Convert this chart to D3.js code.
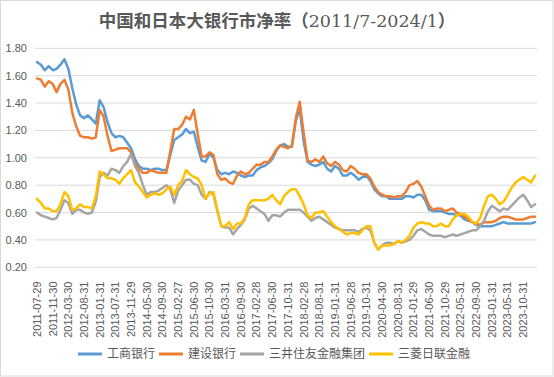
<!DOCTYPE html>
<html><head><meta charset="utf-8">
<script src="https://cdn.jsdelivr.net/npm/d3@7"></script>
<style>body{margin:0;background:#fff} svg{display:block}</style>
</head><body>
<svg id="c" width="554" height="377"></svg>
<script>
// ---------- data ----------
const titleMain = "中国和日本大银行市净率";
const titleRange = "2011/7-2024/1";
const seriesNames = ["工商银行", "建设银行", "三井住友金融集团", "三菱日联金融"];
const tickLabels = ["2011-07-29","2011-11-30","2012-03-30","2012-08-31","2013-01-31","2013-07-31","2013-11-29","2014-05-30","2014-09-30","2015-02-27","2015-06-30","2015-10-30","2016-03-31","2016-09-30","2017-02-28","2017-06-30","2017-10-31","2018-02-28","2018-08-31","2019-01-31","2019-06-28","2019-10-31","2020-04-30","2020-08-31","2021-01-29","2021-06-30","2021-10-29","2022-05-31","2022-09-30","2023-01-31","2023-05-31","2023-10-31"];
const yTicks = [0.2, 0.4, 0.6, 0.8, 1.0, 1.2, 1.4, 1.6, 1.8];
const icbc = [1.70,1.68,1.64,1.67,1.64,1.65,1.68,1.72,1.65,1.51,
1.39,1.31,1.29,1.31,1.28,1.25,1.42,1.37,1.26,1.18,
1.15,1.16,1.15,1.11,1.07,0.99,0.94,0.92,0.92,0.91,
0.92,0.92,0.91,0.91,1.02,1.13,1.15,1.17,1.21,1.18,
1.19,1.08,0.98,0.97,1.03,1.00,0.91,0.88,0.89,0.88,
0.90,0.89,0.87,0.86,0.87,0.87,0.91,0.93,0.94,0.96,
0.99,1.05,1.09,1.10,1.08,1.08,1.27,1.36,1.12,0.97,
0.95,0.94,0.95,0.97,0.92,0.90,0.94,0.92,0.87,0.87,
0.89,0.87,0.84,0.86,0.87,0.83,0.77,0.74,0.72,0.72,
0.70,0.70,0.70,0.70,0.72,0.72,0.71,0.73,0.73,0.69,
0.62,0.61,0.61,0.61,0.60,0.59,0.59,0.58,0.58,0.55,
0.54,0.53,0.51,0.50,0.50,0.50,0.50,0.51,0.52,0.53,
0.52,0.52,0.52,0.52,0.52,0.52,0.52,0.53];
const ccb = [1.58,1.57,1.52,1.56,1.54,1.48,1.54,1.57,1.50,1.33,
1.23,1.16,1.15,1.15,1.14,1.15,1.35,1.30,1.16,1.05,
1.06,1.07,1.07,1.07,1.04,0.96,0.92,0.89,0.89,0.91,
0.90,0.89,0.89,0.89,1.05,1.21,1.21,1.24,1.30,1.28,
1.35,1.17,1.01,1.01,1.04,1.02,0.88,0.84,0.85,0.82,
0.81,0.87,0.90,0.88,0.89,0.92,0.95,0.95,0.97,0.97,
1.01,1.06,1.09,1.08,1.07,1.09,1.29,1.41,1.18,0.98,
0.97,0.99,0.97,1.01,0.96,0.94,0.97,0.95,0.91,0.90,
0.94,0.92,0.89,0.88,0.88,0.85,0.79,0.75,0.73,0.72,
0.72,0.71,0.72,0.72,0.75,0.80,0.81,0.83,0.79,0.72,
0.65,0.62,0.63,0.63,0.61,0.62,0.63,0.60,0.59,0.57,
0.55,0.53,0.52,0.51,0.53,0.53,0.53,0.54,0.56,0.57,
0.57,0.56,0.55,0.55,0.55,0.56,0.57,0.57];
const smfg = [0.60,0.58,0.57,0.56,0.55,0.56,0.62,0.69,0.67,0.59,
0.62,0.62,0.60,0.59,0.60,0.68,0.86,0.89,0.87,0.92,
0.91,0.89,0.94,0.97,1.03,0.94,0.89,0.80,0.73,0.75,
0.75,0.76,0.78,0.80,0.77,0.67,0.76,0.80,0.84,0.84,
0.81,0.80,0.73,0.70,0.75,0.73,0.61,0.50,0.49,0.49,
0.44,0.48,0.51,0.55,0.63,0.65,0.63,0.61,0.59,0.54,
0.58,0.58,0.57,0.60,0.62,0.62,0.62,0.62,0.60,0.57,
0.54,0.56,0.57,0.55,0.53,0.51,0.49,0.48,0.47,0.47,
0.47,0.47,0.46,0.48,0.49,0.47,0.38,0.33,0.36,0.38,
0.38,0.37,0.39,0.38,0.39,0.40,0.43,0.47,0.48,0.46,
0.44,0.43,0.43,0.43,0.42,0.43,0.44,0.43,0.44,0.45,
0.46,0.47,0.47,0.50,0.54,0.61,0.65,0.63,0.61,0.63,
0.62,0.65,0.68,0.71,0.73,0.69,0.64,0.66];
const mufg = [0.70,0.67,0.63,0.63,0.61,0.61,0.66,0.75,0.72,0.62,
0.63,0.66,0.64,0.64,0.63,0.72,0.90,0.88,0.85,0.85,
0.84,0.81,0.85,0.88,0.91,0.82,0.79,0.75,0.71,0.73,
0.74,0.73,0.74,0.77,0.79,0.73,0.80,0.83,0.91,0.88,
0.86,0.85,0.80,0.70,0.74,0.75,0.62,0.50,0.50,0.53,
0.48,0.52,0.52,0.56,0.66,0.69,0.69,0.69,0.69,0.70,
0.73,0.69,0.66,0.72,0.75,0.77,0.77,0.72,0.66,0.58,
0.56,0.60,0.60,0.61,0.57,0.53,0.50,0.48,0.46,0.44,
0.45,0.45,0.44,0.47,0.50,0.50,0.38,0.33,0.36,0.36,
0.36,0.37,0.39,0.38,0.40,0.43,0.49,0.52,0.53,0.52,
0.52,0.50,0.50,0.52,0.50,0.50,0.55,0.58,0.59,0.59,
0.57,0.53,0.52,0.56,0.65,0.72,0.73,0.70,0.66,0.68,
0.73,0.78,0.82,0.84,0.86,0.84,0.82,0.87];
const series = [icbc, ccb, smfg, mufg];
const colors = ["#5B9BD5", "#ED7D31", "#A5A5A5", "#FFC000"];

// ---------- layout ----------
const W = 554, H = 377;
const plot = {left: 35, right: 537, top: 48.3, bottom: 267.3};
const svg = d3.select("#c");
const textColor = "#595959";
const tickFont = "'Liberation Sans', Arial, sans-serif";
const cjkFont = "'Noto Sans CJK SC', 'Noto Sans', sans-serif";

svg.append("rect").attr("x", 0.5).attr("y", 0.5).attr("width", W - 1.5).attr("height", H - 1.5)
  .attr("fill", "#fff").attr("stroke", "#D9D9D9").attr("stroke-width", 1);

const idx = d3.range(icbc.length);
const x = d3.scalePoint().domain(idx).range([plot.left, plot.right]).padding(0.5);
const y = d3.scaleLinear().domain([0.2, 1.8]).range([plot.bottom, plot.top]);

// gridlines
svg.append("g").selectAll("line").data(yTicks).join("line")
  .attr("x1", plot.left).attr("x2", plot.right)
  .attr("y1", d => y(d)).attr("y2", d => y(d))
  .attr("stroke", "#D9D9D9").attr("stroke-width", 1);

// y axis labels
const yAxis = d3.axisLeft(y).tickValues(yTicks).tickFormat(d3.format(".2f")).tickSize(0).tickPadding(0);
const yg = svg.append("g").attr("transform", `translate(27,0)`).call(yAxis);
yg.select(".domain").remove();
yg.selectAll("text").attr("fill", textColor).style("font-family", tickFont).style("font-size", "11px");

// x axis labels
const tickIdx = tickLabels.map((_, j) => j * 4);
const xg = svg.append("g");
xg.selectAll("text").data(tickLabels).join("text")
  .attr("transform", (d, j) => `translate(${x(tickIdx[j])},281.5) rotate(-90)`)
  .attr("text-anchor", "end").attr("dy", "0.35em")
  .attr("fill", textColor).style("font-family", tickFont).style("font-size", "11px")
  .text(d => d);

// lines
const line = d3.line().x((d, i) => x(i)).y(d => y(d));
svg.append("g").selectAll("path").data(series).join("path")
  .attr("d", d => line(d))
  .attr("fill", "none")
  .attr("stroke", (d, i) => colors[i])
  .attr("stroke-width", 2.5)
  .attr("stroke-linejoin", "round").attr("stroke-linecap", "round");

// title
const t = svg.append("text").attr("x", W / 2).attr("y", 26.5).attr("text-anchor", "middle")
  .attr("fill", textColor).style("font-size", "17.5px").style("font-weight", "bold")
  .style("font-family", cjkFont);
t.append("tspan").text(titleMain + "（");
t.append("tspan").style("font-family", "'DejaVu Serif', serif").style("font-weight", "normal").text(titleRange);
t.append("tspan").text("）");

// legend
const lg = svg.append("g");
const items = lg.selectAll("g").data(seriesNames).join("g");
items.append("line").attr("x1", 0).attr("x2", 24).attr("y1", 0).attr("y2", 0)
  .attr("stroke", (d, i) => colors[i]).attr("stroke-width", 3);
items.append("text").attr("x", 29).attr("y", 0).attr("dy", "0.35em")
  .attr("fill", textColor).style("font-family", cjkFont).style("font-size", "12px")
  .text(d => d);
const widths = [];
items.each(function () { widths.push(29 + d3.select(this).select("text").node().getComputedTextLength()); });
const gap = 4;
const total = d3.sum(widths) + gap * (widths.length - 1);
let cx = 274 - total / 2;
items.each(function (d, i) {
  d3.select(this).attr("transform", `translate(${cx},354)`);
  cx += widths[i] + gap;
});
</script>
</body></html>
